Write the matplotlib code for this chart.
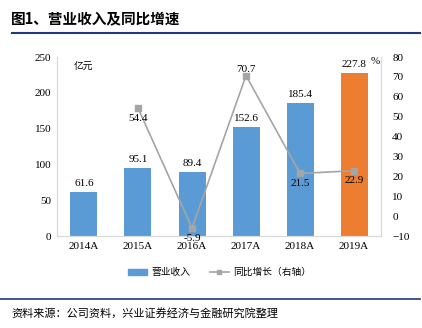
import numpy as np
import matplotlib.pyplot as plt
from matplotlib.lines import Line2D

plt.rcParams['font.family'] = ['Liberation Serif', 'Noto Sans CJK SC']

# data
years = ['2014A', '2015A', '2016A', '2017A', '2018A', '2019A']
revenue = [61.6, 95.1, 89.4, 152.6, 185.4, 227.8]
growth = [None, 54.4, -5.9, 70.7, 21.5, 22.9]

blue = '#5B9BD5'
orange = '#ED7D31'
grey = '#A5A5A5'
navy = '#1F3A78'
cjk = ['Noto Sans CJK SC', 'DejaVu Sans']

fig = plt.figure(figsize=(4.22, 3.28), dpi=100)
ax = fig.add_axes([0.135, 0.28, 0.768, 0.546])
ax2 = ax.twinx()

x = np.arange(len(years))
colors = [blue] * (len(years) - 1) + [orange]
ax.bar(x, revenue, width=0.5, color=colors, zorder=2)
for xi, v in zip(x, revenue):
    ax.annotate(f'{v:.1f}', (xi, v), xytext=(0, 3), textcoords='offset points',
                ha='center', va='bottom', fontsize=8)

ax.set_ylim(0, 250)
ax.set_yticks(np.arange(0, 251, 50))
ax.set_xlim(-0.5, len(years) - 0.5)
ax.set_xticks(x)
ax.set_xticklabels(years)
ax.tick_params(axis='both', length=0, labelsize=8, pad=4)

gx = [xi for xi, g in zip(x, growth) if g is not None]
gy = [g for g in growth if g is not None]
ax2.plot(gx, gy, color=grey, lw=1.2, marker='s', markersize=4, zorder=3)
for xi, g in zip(gx, gy):
    if g == max(gy):
        ax2.annotate(f'{g:.1f}', (xi, g), xytext=(0, 1), textcoords='offset points',
                     ha='center', va='bottom', fontsize=8)
    else:
        ax2.annotate(f'{g:.1f}', (xi, g), xytext=(0, -4), textcoords='offset points',
                     ha='center', va='top', fontsize=8)
ax2.set_ylim(-10, 80)
ax2.set_yticks(np.arange(-10, 81, 10))
ax2.tick_params(axis='y', length=0, labelsize=8, pad=8)

for a in (ax, ax2):
    a.spines['top'].set_visible(False)
    for s in ('left', 'right', 'bottom'):
        a.spines[s].set_color('#D9D9D9')
        a.spines[s].set_linewidth(0.8)

ax.text(0.05, 0.93, '亿元', transform=ax.transAxes, fontsize=7, family=cjk)
ax.text(0.997, 0.975, '%', transform=ax.transAxes, fontsize=8, ha='right', va='center')

# legend
handles = [plt.Rectangle((0, 0), 1, 1, color=blue),
           Line2D([], [], color=grey, lw=1.2, marker='s', markersize=3)]
leg = fig.legend(handles, ['营业收入', '同比增长（右轴）'], loc='center',
                 bbox_to_anchor=(0.52, 0.17), ncol=2, frameon=False,
                 prop={'family': cjk, 'size': 7}, handlelength=2.0,
                 columnspacing=2.0, handleheight=0.5, handletextpad=0.4)

# header and footer
fig.text(0.025, 0.945, '图1、营业收入及同比增速', fontsize=10.5, fontweight='bold',
         family=cjk, va='center')
fig.add_artist(Line2D([0.028, 0.995], [0.898, 0.898], color=navy, lw=1.5))
fig.add_artist(Line2D([0.0, 0.995], [0.087, 0.087], color=navy, lw=1.2))
fig.text(0.028, 0.045, '资料来源：公司资料，兴业证券经济与金融研究院整理', fontsize=8,
         family=cjk, va='center')

fig.savefig('out.png', dpi=100)
